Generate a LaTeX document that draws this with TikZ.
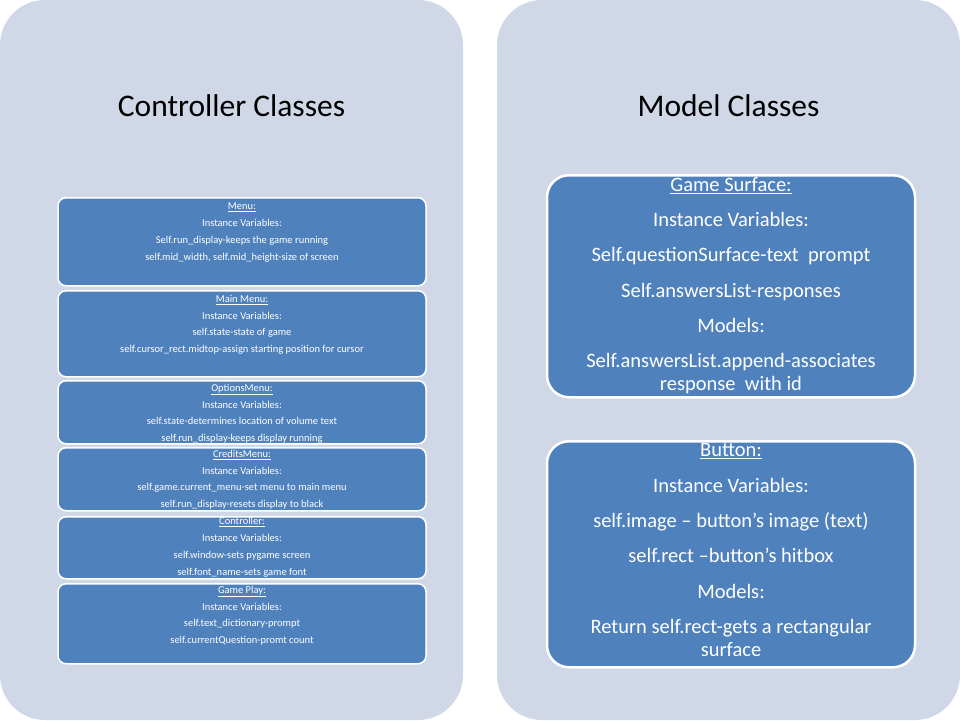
\documentclass[tikz,border=0pt]{standalone}
\usepackage{fontspec}
\setmainfont{Carlito}
\definecolor{panelbg}{HTML}{D0D8E8}
\definecolor{boxblue}{HTML}{4F81BD}
\begin{document}
\begin{tikzpicture}[x=1pt,y=-1pt,
		panel/.style={fill=panelbg, rounded corners=45pt},
		paneltitle/.style={font=\fontsize{31.5}{36}\selectfont},
		ctrlbox/.style={draw=white, line width=1.5pt, fill=boxblue, rounded corners=8pt, minimum width=368pt, anchor=north, inner sep=0pt},
		ctrltext/.style={anchor=north, text=white, align=center, inner sep=0pt, font=\fontsize{10.5}{16.7}\selectfont},
		modelbox/.style={draw=white, line width=2.5pt, fill=boxblue, rounded corners=22pt, minimum width=368pt, anchor=north, inner sep=0pt},
		modeltext/.style={anchor=north, text=white, align=center, inner sep=0pt, font=\fontsize{20.5}{23}\selectfont}]
	\useasboundingbox (0,0) rectangle (960,720);
	\fill[white] (0,0) rectangle (960,720);
	\path[panel] (0,0) rectangle (463,720);
	\path[panel] (497,0) rectangle (960,720);
	\node[paneltitle] (ctrltitle) at (231.5,106) {Controller Classes};
	\node[paneltitle] (modeltitle) at (728.5,106) {Model Classes};
	% controller boxes
	\begin{scope}[every node/.append style={ctrlbox}]
		\node[minimum height=88pt] (menu) at (242,197) {};
		\node[minimum height=86pt] (mainmenu) at (242,290) {};
		\node[minimum height=63pt] (options) at (242,380) {};
		\node[minimum height=63pt] (credits) at (242,447) {};
		\node[minimum height=62pt] (controller) at (242,516) {};
		\node[minimum height=80pt] (gameplay) at (242,583) {};
	\end{scope}
	\begin{scope}[every node/.append style={ctrltext}]
		\node (menutext) at ([yshift=-6pt]menu.north) {\underline{Menu:}\\ Instance Variables:\\ Self.run\_display-keeps the game running\\ self.mid\_width, self.mid\_height-size of screen};
		\node (mainmenutext) at ([yshift=-5pt]mainmenu.north) {\underline{Main Menu:}\\ Instance Variables:\\ self.state-state of game\\ self.cursor\_rect.midtop-assign starting position for cursor};
		\node (optionstext) at ([yshift=-4pt]options.north) {\underline{OptionsMenu:}\\ Instance Variables:\\ self.state-determines location of volume text\\ self.run\_display-keeps display running};
		\node (creditstext) at ([yshift=-3pt]credits.north) {\underline{CreditsMenu:}\\ Instance Variables:\\ self.game.current\_menu-set menu to main menu\\ self.run\_display-resets display to black};
		\node (controllertext) at ([yshift=-1.5pt]controller.north) {\underline{Controller:}\\ Instance Variables:\\ self.window-sets pygame screen\\ self.font\_name-sets game font};
		\node (gameplaytext) at ([yshift=-3pt]gameplay.north) {\underline{Game Play:}\\ Instance Variables:\\ self.text\_dictionary-prompt\\ self.currentQuestion-promt count};
	\end{scope}
	% model boxes
	\begin{scope}[every node/.append style={modelbox}]
		\node[minimum height=222pt] (surface) at (731,174) {};
		\node[minimum height=226pt] (button) at (731,440) {};
	\end{scope}
	\begin{scope}[every node/.append style={modeltext}]
		\node (surfacetext) at ([yshift=-3pt]surface.north) {\underline{Game Surface:}\\[12.3pt] Instance Variables:\\[12.3pt] Self.questionSurface-text\ \ prompt\\[12.3pt] Self.answersList-responses\\[12.3pt] Models:\\[12.3pt] Self.answersList.append-associates\\ response\ \ with id};
		\node (buttontext) at ([yshift=-3.5pt]button.north) {\underline{Button:}\\[12.3pt] Instance Variables:\\[12.3pt] self.image -- button’s image (text)\\[12.3pt] self.rect --button’s hitbox\\[12.3pt] Models:\\[12.3pt] Return self.rect-gets a rectangular\\ surface};
	\end{scope}
\end{tikzpicture}
\end{document}
